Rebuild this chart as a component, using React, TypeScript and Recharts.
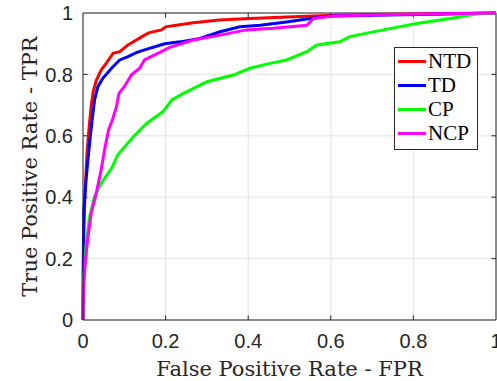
import { LineChart, Line, XAxis, YAxis, CartesianGrid, ReferenceLine } from "recharts";

// ROC curves (false positive rate vs true positive rate)
const ntdFpr = [0, 0.001, 0.005, 0.01, 0.015, 0.02, 0.025, 0.032, 0.044, 0.056, 0.073, 0.089, 0.109, 0.129, 0.149, 0.161, 0.19, 0.2, 0.226, 0.267, 0.33, 0.404, 0.509, 0.574, 0.65, 0.8, 1];
const ntdTpr = [0, 0.25, 0.42, 0.55, 0.63, 0.7, 0.745, 0.78, 0.814, 0.836, 0.869, 0.874, 0.896, 0.912, 0.928, 0.936, 0.945, 0.955, 0.96, 0.968, 0.977, 0.982, 0.988, 0.991, 0.994, 0.997, 1];

const tdFpr = [0, 0.001, 0.002, 0.008, 0.016, 0.022, 0.028, 0.036, 0.048, 0.069, 0.089, 0.109, 0.129, 0.149, 0.174, 0.198, 0.235, 0.283, 0.332, 0.38, 0.429, 0.493, 0.55, 0.598, 0.7, 0.85, 1];
const tdTpr = [0, 0.2, 0.358, 0.466, 0.576, 0.65, 0.717, 0.76, 0.787, 0.82, 0.847, 0.858, 0.871, 0.88, 0.89, 0.9, 0.906, 0.917, 0.939, 0.955, 0.96, 0.971, 0.982, 0.99, 0.993, 0.996, 1];

const cpFpr = [0, 0.002, 0.008, 0.016, 0.028, 0.044, 0.069, 0.085, 0.122, 0.154, 0.194, 0.215, 0.243, 0.259, 0.3, 0.364, 0.404, 0.453, 0.493, 0.542, 0.566, 0.622, 0.646, 0.727, 0.808, 0.889, 0.953, 1];
const cpTpr = [0, 0.14, 0.25, 0.337, 0.402, 0.445, 0.494, 0.54, 0.597, 0.64, 0.679, 0.717, 0.738, 0.749, 0.776, 0.798, 0.82, 0.836, 0.847, 0.874, 0.896, 0.906, 0.923, 0.945, 0.966, 0.982, 0.997, 1];

const ncpFpr = [0, 0.002, 0.006, 0.012, 0.02, 0.032, 0.044, 0.053, 0.062, 0.071, 0.081, 0.087, 0.1, 0.117, 0.137, 0.149, 0.165, 0.186, 0.21, 0.267, 0.332, 0.396, 0.461, 0.542, 0.558, 0.605, 0.75, 1];
const ncpTpr = [0, 0.12, 0.195, 0.27, 0.348, 0.413, 0.489, 0.56, 0.62, 0.651, 0.695, 0.738, 0.76, 0.798, 0.82, 0.847, 0.858, 0.872, 0.888, 0.912, 0.928, 0.945, 0.95, 0.96, 0.982, 0.99, 0.995, 1];

const ticks = [0, 0.2, 0.4, 0.6, 0.8, 1];
const innerTicks = [0.2, 0.4, 0.6, 0.8];

const toPoints = (xs: number[], ys: number[]) => xs.map((x, i) => ({ x, y: ys[i] }));

const series = [
  { name: "NTD", color: "#ff0000", data: toPoints(ntdFpr, ntdTpr) },
  { name: "TD", color: "#0000ff", data: toPoints(tdFpr, tdTpr) },
  { name: "CP", color: "#00ff00", data: toPoints(cpFpr, cpTpr) },
  { name: "NCP", color: "#ff00ff", data: toPoints(ncpFpr, ncpTpr) },
];

const axisColor = "#262626";
const tickFont = { fontFamily: "Liberation Sans", fontSize: 20, fill: axisColor };
const labelFont = { fontFamily: "DejaVu Serif", fontSize: 21, fill: axisColor };

function LegendBox() {
  return (
    <div
      style={{
        position: "absolute",
        left: 394,
        top: 47,
        border: "1px solid #262626",
        background: "#fff",
        padding: "1px 3px 4px 3px",
        width: 76,
        fontFamily: "Liberation Serif",
        fontSize: 21,
        lineHeight: "24px",
        color: "#000",
      }}
    >
      {series.map((s) => (
        <div key={s.name} style={{ display: "flex", alignItems: "center", height: 24 }}>
          <div style={{ width: 28, height: 3, background: s.color, marginRight: 2 }} />
          <span>{s.name}</span>
        </div>
      ))}
    </div>
  );
}

export default function App() {
  return (
    <div style={{ position: "absolute", left: 0, top: 0, width: 497, height: 381 }}>
      <LineChart width={497} height={381} margin={{ top: 13, right: 1, bottom: 0, left: 0 }}>
        <CartesianGrid stroke="#e3e3e3" />
        <XAxis
          type="number"
          dataKey="x"
          domain={[0, 1]}
          ticks={ticks}
          tickFormatter={(v) => String(v)}
          height={61}
          tickSize={0}
          tickMargin={14}
          tickLine={false}
          axisLine={{ stroke: axisColor }}
          tick={tickFont}
          interval={0}
          label={{ value: "False Positive Rate - FPR", position: "center", dy: 18, style: labelFont }}
        />
        <YAxis
          type="number"
          dataKey="y"
          domain={[0, 1]}
          ticks={ticks}
          tickFormatter={(v) => String(v)}
          width={83}
          tickSize={0}
          tickMargin={10}
          tickLine={false}
          axisLine={{ stroke: axisColor }}
          tick={tickFont}
          interval={0}
          label={{ value: "True Positive Rate - TPR", angle: -90, position: "center", dx: -12, style: { ...labelFont, textAnchor: "middle" } }}
        />
        <ReferenceLine y={1} stroke={axisColor} />
        <ReferenceLine x={1} stroke={axisColor} />
        {innerTicks.map((t) => (
          <ReferenceLine key={"xb" + t} segment={[{ x: t, y: 0 }, { x: t, y: 0.015 }]} stroke={axisColor} />
        ))}
        {innerTicks.map((t) => (
          <ReferenceLine key={"xt" + t} segment={[{ x: t, y: 1 }, { x: t, y: 0.985 }]} stroke={axisColor} />
        ))}
        {innerTicks.map((t) => (
          <ReferenceLine key={"yl" + t} segment={[{ x: 0, y: t }, { x: 0.011, y: t }]} stroke={axisColor} />
        ))}
        {innerTicks.map((t) => (
          <ReferenceLine key={"yr" + t} segment={[{ x: 1, y: t }, { x: 0.989, y: t }]} stroke={axisColor} />
        ))}
        {series.map((s) => (
          <Line
            key={s.name}
            data={s.data}
            dataKey="y"
            name={s.name}
            type="linear"
            stroke={s.color}
            strokeWidth={3}
            dot={false}
            isAnimationActive={false}
          />
        ))}
      </LineChart>
      <LegendBox />
    </div>
  );
}
